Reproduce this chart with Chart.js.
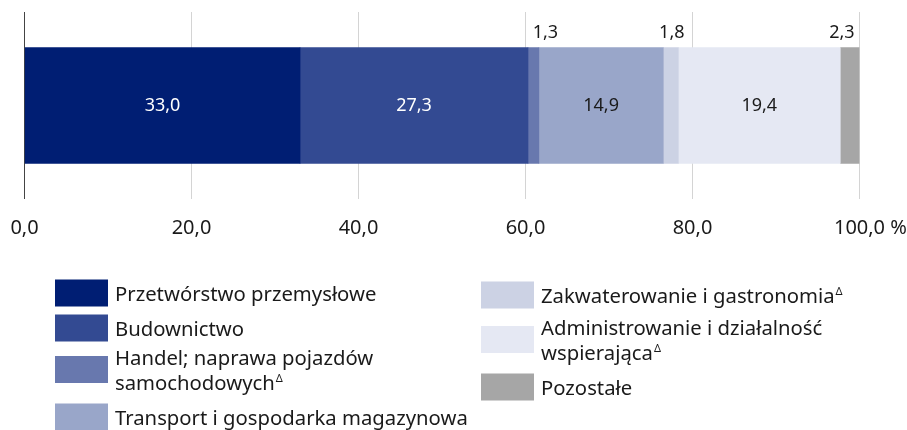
<!DOCTYPE html>
<html><head><meta charset="utf-8">
<script src="https://cdn.jsdelivr.net/npm/chart.js@4/dist/chart.umd.min.js"></script>
<style>
html,body{margin:0;padding:0;background:#fff;}
#wrap{position:relative;width:907px;height:430px;overflow:hidden;}
#c{position:absolute;left:0;top:0;}
.lg{position:absolute;display:flex;align-items:center;font-family:'Noto Sans',sans-serif;font-size:20.3px;color:#1a1a1a;line-height:25px;transform:translateY(-50%);white-space:pre-line;}
.sw{width:53px;height:27px;flex:none;margin-right:7px;}
.lg sup{font-size:11px;vertical-align:8px;line-height:0;margin-left:1px;}
</style></head>
<body>
<div id="wrap"><canvas id="c" width="907" height="430"></canvas></div>
<script>
const categories = [""];
const seriesNames = [
  "Przetwórstwo przemysłowe",
  "Budownictwo",
  "Handel; naprawa pojazdów\nsamochodowych",
  "Transport i gospodarka magazynowa",
  "Zakwaterowanie i gastronomia",
  "Administrowanie i działalność\nwspierająca",
  "Pozostałe"
];
const seriesMarked = [false, false, true, false, true, true, false];
const seriesValues = [33.0, 27.3, 1.3, 14.9, 1.8, 19.4, 2.3];
const xTickValues = [0, 20, 40, 60, 80, 100];
const axisUnit = "%";

const colors = ["#001E73", "#334A92", "#6878AE", "#99A6C9", "#CCD2E4", "#E5E8F3", "#A6A6A6"];
const labelNudge = [0, 0, 12, 0, 1, 0, -8];
const legendPos = [
  [55, 292.5], [55, 327.5], [55, 369.5], [55, 416.5],
  [481, 294.5], [481, 339.5], [481, 386.5]
];
const FONT = "'Noto Sans', sans-serif";
const fmt = v => v.toFixed(1).replace('.', ',');

const labelPlugin = {
  id: 'vals',
  afterDatasetsDraw(chart) {
    const ctx = chart.ctx;
    ctx.save();
    ctx.font = "18px " + FONT;
    ctx.textAlign = 'center';
    ctx.textBaseline = 'middle';
    chart.data.datasets.forEach((ds, i) => {
      const bar = chart.getDatasetMeta(i).data[0];
      const v = ds.data[0];
      const cx = (bar.x + bar.base) / 2;
      if (v >= 5) {
        ctx.fillStyle = i < 2 ? '#ffffff' : '#1a1a1a';
        ctx.fillText(fmt(v), cx, bar.y);
      } else {
        ctx.fillStyle = '#1a1a1a';
        ctx.fillText(fmt(v), cx + labelNudge[i], bar.y - bar.height / 2 - 15);
      }
    });
    ctx.restore();
  }
};

const unitPlugin = {
  id: 'unit',
  afterDraw(chart) {
    const sc = chart.scales.x;
    const items = sc.getLabelItems ? sc.getLabelItems() : [];
    if (!items.length) return;
    const it = items[items.length - 1];
    const ctx = chart.ctx;
    ctx.save();
    ctx.font = it.font.string;
    ctx.fillStyle = '#1a1a1a';
    ctx.textAlign = 'left';
    ctx.textBaseline = it.options.textBaseline;
    const w = ctx.measureText(it.label).width;
    ctx.fillText(" " + axisUnit, it.options.translation[0] + w / 2, it.options.translation[1] + it.textOffset);
    ctx.restore();
  }
};

const chart = new Chart(document.getElementById('c'), {
  type: 'bar',
  data: {
    labels: categories,
    datasets: seriesNames.map((n, i) => ({
      label: n,
      data: [seriesValues[i]],
      backgroundColor: colors[i],
      borderWidth: 0,
      barThickness: 116
    }))
  },
  options: {
    indexAxis: 'y',
    responsive: false,
    animation: false,
    devicePixelRatio: 1,
    layout: { padding: { left: 24.5, right: 47.5, top: 12, bottom: 173 } },
    plugins: { legend: { display: false }, tooltip: { enabled: false } },
    scales: {
      x: {
        stacked: true, min: 0, max: 100,
        afterBuildTicks: s => { s.ticks = xTickValues.map(v => ({ value: v })); },
        afterFit: s => { s.paddingLeft = 0; s.paddingRight = 0; },
        ticks: {
          callback: v => fmt(v),
          font: { family: FONT, size: 20 },
          color: '#1a1a1a',
          padding: 17,
          maxRotation: 0
        },
        grid: {
          drawTicks: false,
          color: c => (c.tick && c.tick.value === 0) ? '#444444' : '#d4d4d4',
          lineWidth: 1
        },
        border: { display: false }
      },
      y: { stacked: true, display: false }
    }
  },
  plugins: [labelPlugin, unitPlugin]
});

const wrap = document.getElementById('wrap');
seriesNames.forEach((n, i) => {
  const d = document.createElement('div');
  d.className = 'lg';
  d.style.left = legendPos[i][0] + 'px';
  d.style.top = legendPos[i][1] + 'px';
  const sw = document.createElement('div');
  sw.className = 'sw';
  sw.style.background = colors[i];
  const t = document.createElement('div');
  t.textContent = n;
  if (seriesMarked[i]) {
    const s = document.createElement('sup');
    s.textContent = 'Δ';
    t.appendChild(s);
  }
  d.appendChild(sw);
  d.appendChild(t);
  wrap.appendChild(d);
});
</script>
</body></html>
